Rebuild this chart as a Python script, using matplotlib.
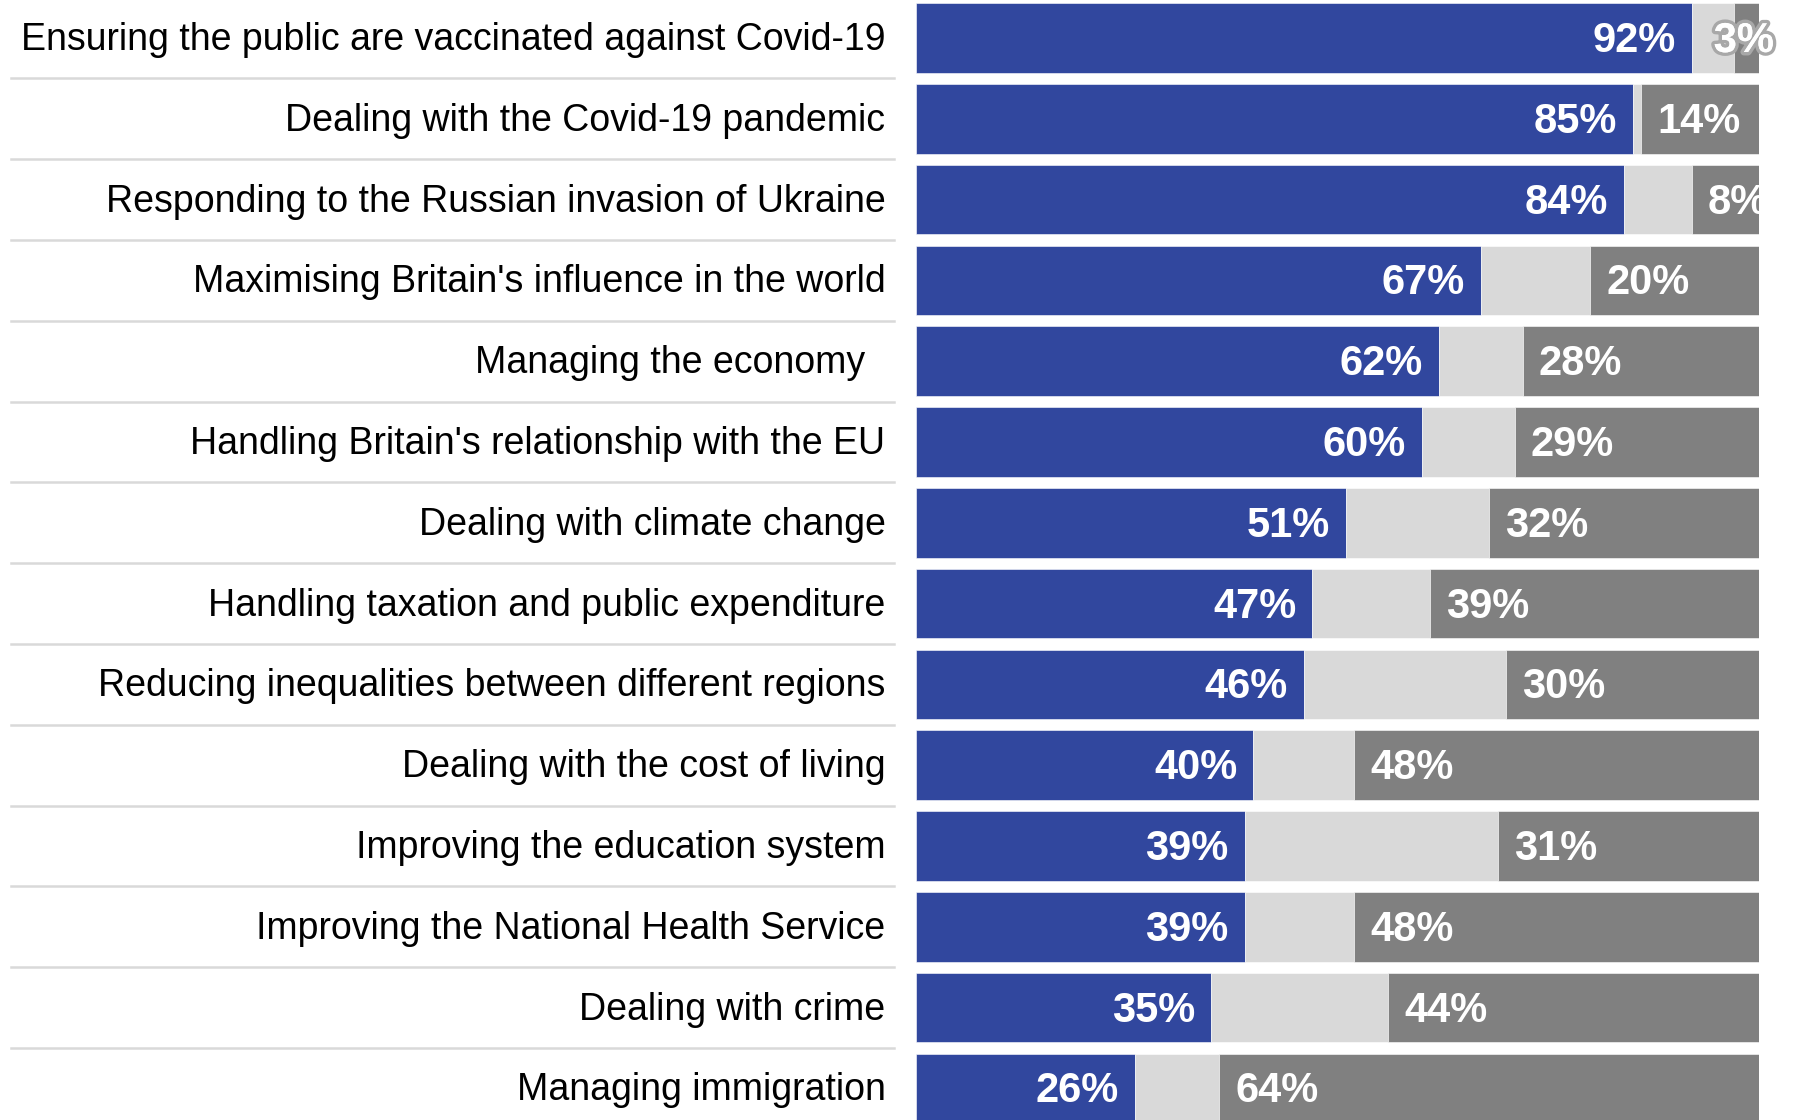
import matplotlib.pyplot as plt
import matplotlib.patheffects as pe
from matplotlib.transforms import blended_transform_factory, offset_copy

categories = [
    "Ensuring the public are vaccinated against Covid-19",
    "Dealing with the Covid-19 pandemic",
    "Responding to the Russian invasion of Ukraine",
    "Maximising Britain's influence in the world",
    "Managing the economy  ",
    "Handling Britain's relationship with the EU",
    "Dealing with climate change",
    "Handling taxation and public expenditure",
    "Reducing inequalities between different regions",
    "Dealing with the cost of living",
    "Improving the education system",
    "Improving the National Health Service",
    "Dealing with crime",
    "Managing immigration",
]
good = [92, 85, 84, 67, 62, 60, 51, 47, 46, 40, 39, 39, 35, 26]
bad = [3, 14, 8, 20, 28, 29, 32, 39, 30, 48, 31, 48, 44, 64]
neither = [100 - g - b for g, b in zip(good, bad)]

blue = "#31479E"
light = "#D9D9D9"
dark = "#808080"

plt.rcParams['font.family'] = ['Liberation Sans', 'DejaVu Sans']

fig = plt.figure(figsize=(17.95, 11.2), dpi=100)
# rows: first centre ~38 px from top, pitch ~80.8 px
pitch = 80.8
top = 38 - pitch / 2
bottom = top + 14 * pitch
ax = fig.add_axes([916 / 1795, (1120 - bottom) / 1120, 843 / 1795, (bottom - top) / 1120])

y = list(range(len(categories)))
h = 69.6 / pitch
ax.barh(y, good, height=h, color=blue, edgecolor="white", linewidth=0.4)
ax.barh(y, neither, left=good, height=h, color=light, edgecolor="white", linewidth=0.4)
ax.barh(y, bad, left=[100 - b for b in bad], height=h, color=dark,
        edgecolor="white", linewidth=0.4)

ax.set_xlim(0, 100)
ax.set_ylim(len(categories) - 0.5, -0.5)
ax.set_yticks(y)
ax.set_yticklabels(categories, fontsize=27)
ax.tick_params(axis="y", length=0, pad=22)
ax.set_xticks([])
for s in ax.spines.values():
    s.set_visible(False)
for lab in ax.get_yticklabels():
    lab.set_transform(offset_copy(lab.get_transform(), fig=fig, x=0, y=2, units="dots"))

# blue labels, right aligned at bar end
for i, g in enumerate(good):
    tr = offset_copy(ax.transData, fig=fig, x=-16, y=-3, units="dots")
    ax.text(g, i, f"{g}%", transform=tr, ha="right", va="center",
            color="white", fontsize=30, fontweight="bold")

# dark grey labels
for i, b in enumerate(bad):
    dx = 16 if b >= 5 else -20
    tr = offset_copy(ax.transData, fig=fig, x=dx, y=-3, units="dots")
    t = ax.text(100 - b, i, f"{b}%", transform=tr, ha="left", va="center",
                color="white", fontsize=30, fontweight="bold", clip_on=True)
    if b < 5:
        t.set_clip_on(False)
        t.set_path_effects([pe.withStroke(linewidth=5, foreground="#A8A8A8"),
                            pe.Normal()])

# separator lines left of the bars
sep = blended_transform_factory(fig.transFigure, ax.transData)
for i in range(len(categories) - 1):
    ax.plot([11 / 1795, 894 / 1795], [i + 0.5, i + 0.5], transform=sep,
            color=light, linewidth=1.8, clip_on=False)

fig.savefig("out.png", dpi=100)
